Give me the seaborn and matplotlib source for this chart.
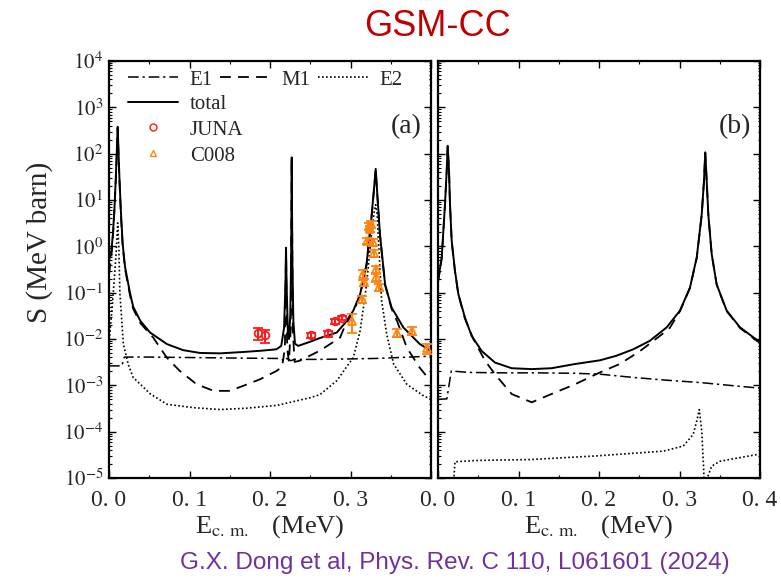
import matplotlib
matplotlib.use("Agg")
import matplotlib.pyplot as plt
from matplotlib.lines import Line2D
from matplotlib.ticker import FixedLocator, LogLocator, NullFormatter
import pandas as pd
import seaborn as sns

# ---------------- panel (a): astrophysical S factor, GSM-CC ----------------
E_tot_a = [0.000, 0.003, 0.005, 0.007, 0.0085, 0.0098, 0.0108, 0.0118, 0.0128, 0.0147,
           0.017, 0.020, 0.026, 0.030, 0.039, 0.051, 0.072, 0.092, 0.113, 0.138,
           0.167, 0.190, 0.208, 0.214, 0.2175, 0.2192, 0.2199, 0.2206, 0.2222, 0.2235,
           0.2252, 0.2263, 0.2270, 0.2277, 0.2290, 0.2310, 0.235, 0.2497, 0.262, 0.283,
           0.2935, 0.3035, 0.312, 0.320, 0.326, 0.3295, 0.3313, 0.3330, 0.3366, 0.343,
           0.351, 0.3656, 0.386, 0.400]
S_tot_a = [0.49, 0.79, 2.0, 7.9, 32, 126, 380, 112, 35, 5.9,
           1.12, 0.355, 0.10, 0.050, 0.0245, 0.0138, 0.00776, 0.00575, 0.0050, 0.0049,
           0.00525, 0.0056, 0.0060, 0.0071, 0.0178, 0.158, 0.93, 0.158, 0.0141, 0.010,
           0.0316, 0.63, 83, 0.63, 0.025, 0.0079, 0.0071, 0.0087, 0.0105, 0.0138,
           0.0224, 0.041, 0.093, 0.42, 4.2, 20, 47, 16, 1.8, 0.15,
           0.048, 0.0178, 0.0078, 0.0055]

E_m1_a = [0.000, 0.003, 0.005, 0.007, 0.0085, 0.0098, 0.0108, 0.0118, 0.0128, 0.0147,
          0.017, 0.020, 0.026, 0.030, 0.039, 0.055, 0.0716, 0.088, 0.109, 0.130,
          0.150, 0.167, 0.1876, 0.208, 0.215, 0.2185, 0.2199, 0.2213, 0.2235, 0.2257,
          0.2270, 0.2283, 0.2305, 0.237, 0.262, 0.287, 0.2935, 0.3035, 0.312, 0.320,
          0.326, 0.3295, 0.3313, 0.3330, 0.3366, 0.343, 0.351, 0.358, 0.370, 0.386,
          0.3925, 0.400]
S_m1_a = [0.25, 0.63, 1.78, 7.1, 28, 112, 355, 100, 32, 5.2,
          1.0, 0.32, 0.089, 0.045, 0.0219, 0.0107, 0.0040, 0.00204, 0.00105, 0.00076,
          0.00076, 0.00098, 0.00135, 0.00204, 0.0025, 0.0063, 0.89, 0.0063, 0.0032, 0.016,
          79, 0.016, 0.0032, 0.0034, 0.0056, 0.0107, 0.020, 0.038, 0.089, 0.40,
          4.0, 19, 45, 15, 1.74, 0.145, 0.045, 0.024, 0.0065, 0.0024,
          0.00174, 0.0012]

E_e1_a = [0.000, 0.016, 0.019, 0.050, 0.100, 0.150, 0.210, 0.2195, 0.2205, 0.226,
          0.230, 0.260, 0.300, 0.330, 0.360, 0.400]
S_e1_a = [0.00263, 0.00263, 0.00407, 0.00407, 0.00398, 0.00389, 0.0038, 0.0034, 0.0038, 0.0034,
          0.00363, 0.00363, 0.00372, 0.0038, 0.00398, 0.00427]

E_e2_a = [0.000, 0.004, 0.007, 0.009, 0.0108, 0.0122, 0.0135, 0.0178, 0.024, 0.030,
          0.0515, 0.072, 0.105, 0.138, 0.170, 0.209, 0.2497, 0.262, 0.283, 0.3035,
          0.312, 0.320, 0.326, 0.3295, 0.3313, 0.3330, 0.3366, 0.3387, 0.345, 0.3535,
          0.370, 0.391, 0.400]
S_e2_a = [0.0079, 0.050, 0.25, 0.79, 3.2, 1.0, 0.10, 0.0079, 0.0028, 0.00148,
          0.00065, 0.00039, 0.00033, 0.0003, 0.00032, 0.00037, 0.00054, 0.00063, 0.00126, 0.0040,
          0.0151, 0.151, 1.82, 5.6, 7.9, 5.0, 0.32, 0.066, 0.0126, 0.0029,
          0.00105, 0.00059, 0.0005]

# measured points
E_juna = [0.185, 0.194, 0.251, 0.2715, 0.281, 0.289]
S_juna = [0.0132, 0.0120, 0.0120, 0.0132, 0.0245, 0.0288]
dS_juna = [0.0038, 0.0036, 0.0017, 0.0019, 0.0030, 0.0032]

E_c008 = [0.3015, 0.314, 0.316, 0.317, 0.320, 0.3232, 0.3245, 0.326, 0.3275, 0.3298,
          0.3315, 0.332, 0.3356, 0.358, 0.377, 0.395]
S_c008 = [0.0245, 0.0724, 0.251, 0.170, 1.32, 2.75, 2.40, 3.02, 1.23, 0.708,
          0.324, 0.214, 0.132, 0.0138, 0.0151, 0.0063]
dS_c008 = [0.011, 0.012, 0.06, 0.03, 0.2, 0.5, 0.4, 0.5, 0.2, 0.12,
           0.06, 0.04, 0.025, 0.0025, 0.0028, 0.0015]

# ---------------- panel (b) ----------------
E_tot_b = [0.000, 0.0046, 0.0087, 0.0108, 0.0120, 0.0137, 0.0149, 0.017, 0.0211, 0.0253,
           0.0335, 0.0418, 0.0543, 0.0708, 0.0915, 0.1164, 0.141, 0.170, 0.2012, 0.222,
           0.2426, 0.263, 0.284, 0.3006, 0.313, 0.3214, 0.3276, 0.3304, 0.332, 0.3338,
           0.3358, 0.340, 0.3462, 0.3586, 0.3752, 0.397, 0.400]
S_tot_b = [0.18, 0.575, 8.1, 43, 148, 43, 8.1, 1.32, 0.295, 0.093,
           0.0288, 0.0117, 0.0055, 0.0031, 0.00234, 0.00224, 0.00234, 0.00288, 0.00347, 0.00437,
           0.0060, 0.0091, 0.0178, 0.041, 0.129, 0.575, 4.9, 25.7, 107, 25.7,
           4.9, 0.68, 0.15, 0.041, 0.0178, 0.0093, 0.0087]

E_m1_b = [0.000, 0.0046, 0.0087, 0.0108, 0.0120, 0.0137, 0.0149, 0.017, 0.0211, 0.0253,
          0.0335, 0.0439, 0.0584, 0.0708, 0.0915, 0.1164, 0.141, 0.170, 0.2012, 0.226,
          0.251, 0.2758, 0.288, 0.3006, 0.313, 0.3214, 0.3276, 0.3304, 0.332, 0.3338,
          0.3358, 0.340, 0.3462, 0.3586, 0.3752, 0.397, 0.400]
S_m1_b = [0.165, 0.54, 7.8, 41, 143, 41, 7.8, 1.27, 0.285, 0.090,
          0.0275, 0.010, 0.0034, 0.00174, 0.00065, 0.00043, 0.00065, 0.00105, 0.0019, 0.0029,
          0.0055, 0.0117, 0.0174, 0.040, 0.126, 0.56, 4.8, 25.0, 104, 25.0,
          4.8, 0.67, 0.148, 0.040, 0.0172, 0.0089, 0.0083]

E_e1_b = [0.000, 0.011, 0.0165, 0.0377, 0.079, 0.120, 0.170, 0.2012, 0.2426, 0.284,
          0.3255, 0.367, 0.400]
S_e1_b = [0.00050, 0.00051, 0.00204, 0.0019, 0.00186, 0.00186, 0.00182, 0.00174, 0.00148, 0.00129,
          0.00115, 0.00098, 0.00087]

E_e2_b = [0.0160, 0.0211, 0.050, 0.1143, 0.197, 0.280, 0.3047, 0.317, 0.3214, 0.3246,
          0.3276, 0.3300, 0.3320, 0.3345, 0.340, 0.3503, 0.375, 0.396, 0.400]
S_e2_b = [1e-6, 2.24e-5, 2.4e-5, 2.5e-5, 3.0e-5, 3.8e-5, 4.9e-5, 8.7e-5, 1.7e-4, 3.0e-4,
          1.05e-4, 1.6e-5, 1e-6, 1e-5, 1.8e-5, 2.3e-5, 2.75e-5, 3.2e-5, 3.25e-5]

x_ticks = [0.0, 0.1, 0.2, 0.3, 0.4]
x_ticklabels = ["0. 0", "0. 1", "0. 2", "0. 3", "0. 4"]
y_decades = list(range(-5, 5))

# ---------------- styling ----------------
sns.set_theme(style="white")
plt.rcParams["font.family"] = ["Liberation Serif", "DejaVu Serif"]
plt.rcParams["mathtext.fontset"] = "stix"
plt.rcParams["axes.edgecolor"] = "black"
plt.rcParams["axes.linewidth"] = 1.6

LS = {
    "E1": (0, (7, 2.5, 1.5, 2.5)),
    "M1": (0, (6, 4)),
    "E2": (0, (1, 1.4)),
    "total": "-",
}
LW = {"E1": 1.1, "M1": 1.3, "E2": 1.2, "total": 1.4}

fig = plt.figure(figsize=(7.81, 5.81), dpi=100)
W, H = 781.0, 581.0
bottom = 1 - 478 / H
height = (478 - 61) / H
ax_a = fig.add_axes([109 / W, bottom, 322 / W, height])
ax_b = fig.add_axes([438 / W, bottom, 322 / W, height])


def draw_curves(ax, curves):
    for name, (E, S) in curves.items():
        df = pd.DataFrame({"E": E, "S": S})
        sns.lineplot(data=df, x="E", y="S", ax=ax, color="black",
                     linewidth=LW[name], linestyle=LS[name],
                     sort=False, estimator=None, legend=False)


draw_curves(ax_a, {
    "E2": (E_e2_a, S_e2_a),
    "E1": (E_e1_a, S_e1_a),
    "M1": (E_m1_a, S_m1_a),
    "total": (E_tot_a, S_tot_a),
})
draw_curves(ax_b, {
    "E2": (E_e2_b, S_e2_b),
    "E1": (E_e1_b, S_e1_b),
    "M1": (E_m1_b, S_m1_b),
    "total": (E_tot_b, S_tot_b),
})

juna_col = "#FF1A1A"
c008_col = "#FF8410"
ax_a.errorbar(E_juna, S_juna, yerr=dS_juna, fmt="o", ms=5.5, mfc="none", mec=juna_col,
              mew=1.3, ecolor=juna_col, elinewidth=1.5, capsize=3.5, capthick=1.5,
              zorder=5, clip_on=True)
ax_a.errorbar(E_c008, S_c008, yerr=dS_c008, fmt="^", ms=5.5, mfc="none", mec=c008_col,
              mew=1.3, ecolor=c008_col, elinewidth=1.5, capsize=3.5, capthick=1.5,
              zorder=5, clip_on=True)

for ax, lab in ((ax_a, "(a)"), (ax_b, "(b)")):
    ax.set_yscale("log")
    ax.set_xlim(0, 0.4)
    ax.set_ylim(1e-5, 1e4)
    ax.set_xticks(x_ticks)
    ax.xaxis.set_minor_locator(FixedLocator([0.05, 0.15, 0.25, 0.35]))
    ax.set_yticks([10.0 ** k for k in y_decades])
    ax.yaxis.set_minor_locator(LogLocator(base=10, subs=range(2, 10), numticks=20))
    ax.yaxis.set_minor_formatter(NullFormatter())
    ax.tick_params(which="both", direction="in", top=True, right=True,
                   bottom=True, left=True, color="black")
    ax.tick_params(which="major", length=5, width=1.0)
    ax.tick_params(axis="x", which="major", labelsize=17, pad=9)
    ax.tick_params(axis="y", which="major", labelsize=15, pad=4)
    ax.tick_params(which="minor", length=2.5, width=0.8)
    ax.tick_params(axis="y", which="minor", length=1.8)
    for sp in ax.spines.values():
        sp.set_linewidth(1.6)
        sp.set_color("black")
    ax.set_xlabel(r"E$_{\mathrm{c.\,m.}}$   (MeV)", fontsize=19)
    ax.xaxis.set_label_coords(0.5, -0.085)
    ax.text(0.922, 0.842, lab, transform=ax.transAxes, fontsize=20,
            ha="center", va="center")
    ax.grid(False)

ax_a.set_xticklabels(x_ticklabels[:-1] + [""])
ax_b.set_xticklabels(x_ticklabels)
ax_a.set_yticklabels([r"$10^{%d}$" % k for k in y_decades])
ax_a.set_ylabel("S (MeV barn)", fontsize=21)
ax_a.yaxis.set_label_coords(-0.175, 0.565)
ax_b.tick_params(labelleft=False)
ax_b.set_ylabel("")

# legend: one row with the multipole components, then total and data
h = {k: Line2D([], [], color="black", lw=LW[k], linestyle=LS[k]) for k in LS}
leg1 = ax_a.legend([h["E1"], h["M1"], h["E2"]], ["E1", "M1", "E2"], ncol=3,
                   loc="upper left", bbox_to_anchor=(0.06, 0.978), frameon=False,
                   fontsize=15, handlelength=2.4, handletextpad=0.55,
                   columnspacing=0.35, borderpad=0, borderaxespad=0)
ax_a.add_artist(leg1)
h_juna = Line2D([], [], ls="none", marker="o", ms=5, mfc="none", mec=juna_col, mew=1.0)
h_c008 = Line2D([], [], ls="none", marker="^", ms=5, mfc="none", mec=c008_col, mew=1.0)
ax_a.legend([h["total"], h_juna, h_c008], ["total", "JUNA", "C008"],
            loc="upper left", bbox_to_anchor=(0.06, 0.92), frameon=False,
            fontsize=15, handlelength=2.4, handletextpad=0.55, labelspacing=0.3,
            borderpad=0, borderaxespad=0)

fig.text(437 / W, 1 - 27 / H, "GSM-CC", color="#C00000", fontsize=26,
         family=["Liberation Sans", "DejaVu Sans"], ha="center", va="center")
fig.text(455 / W, 1 - 563 / H, "G.X. Dong et al, Phys. Rev. C 110, L061601 (2024)",
         color="#7030A0", fontsize=17.5,
         family=["Liberation Sans Narrow", "Liberation Sans", "DejaVu Sans"],
         ha="center", va="center")

fig.savefig("out.png", dpi=100)
